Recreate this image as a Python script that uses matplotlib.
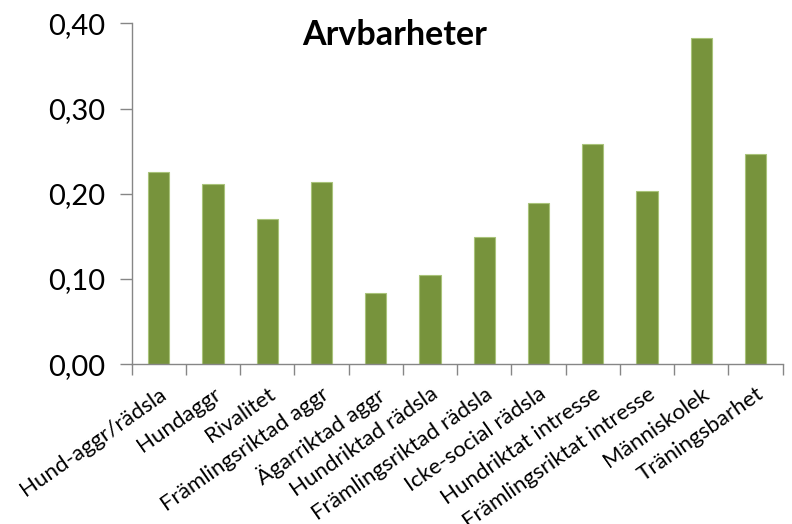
import matplotlib
matplotlib.use("Agg")
import matplotlib.pyplot as plt
from matplotlib.ticker import FixedLocator, FuncFormatter

categories = ["Hund-aggr/rädsla", "Hundaggr", "Rivalitet", "Främlingsriktad aggr",
              "Ägarriktad aggr", "Hundriktad rädsla", "Främlingsriktad rädsla",
              "Icke-social rädsla", "Hundriktat intresse", "Främlingsriktat intresse",
              "Människolek", "Träningsbarhet"]
values = [0.226, 0.211, 0.170, 0.214, 0.084, 0.105, 0.149, 0.189, 0.259, 0.203, 0.383, 0.247]
yticks = [0.0, 0.1, 0.2, 0.3, 0.4]
title = "Arvbarheter"

plt.rcParams['font.family'] = ['Lato', 'DejaVu Sans']

fig = plt.figure(figsize=(7.92, 5.24), dpi=100)
ax = fig.add_axes([0.1663, 0.3048, 0.9882 - 0.1663, 0.9555 - 0.3048])

x = list(range(len(categories)))
ax.bar(x, values, width=0.39, color="#77933C", edgecolor="#A9C37A", linewidth=0.8, zorder=2)

ax.set_xlim(-0.5, len(categories) - 0.5)
ax.set_ylim(0, 0.40)
ax.yaxis.set_major_locator(FixedLocator(yticks))
ax.yaxis.set_major_formatter(FuncFormatter(lambda v, p: f"{v:.2f}".replace(".", ",")))
ax.tick_params(axis='y', labelsize=21, length=9, width=1, color="#868686", pad=10)

ax.set_xticks([i - 0.5 for i in range(len(categories) + 1)], minor=False)
ax.set_xticklabels([])
ax.tick_params(axis='x', length=8, width=1, color="#868686", direction='out')
ax.set_xticks(x, minor=True)
ax.set_xticklabels(categories, minor=True, rotation=35, ha='right', va='top',
                   rotation_mode='anchor', fontsize=16)
ax.tick_params(axis='x', which='minor', length=0, pad=14)

for s in ['top', 'right']:
    ax.spines[s].set_visible(False)
for s in ['left', 'bottom']:
    ax.spines[s].set_color("#868686")
    ax.spines[s].set_linewidth(1)

fig.text(0.498, 0.933, title, ha='center', va='center', fontsize=24.5, fontweight='bold')

fig.savefig("out.png", dpi=100)
